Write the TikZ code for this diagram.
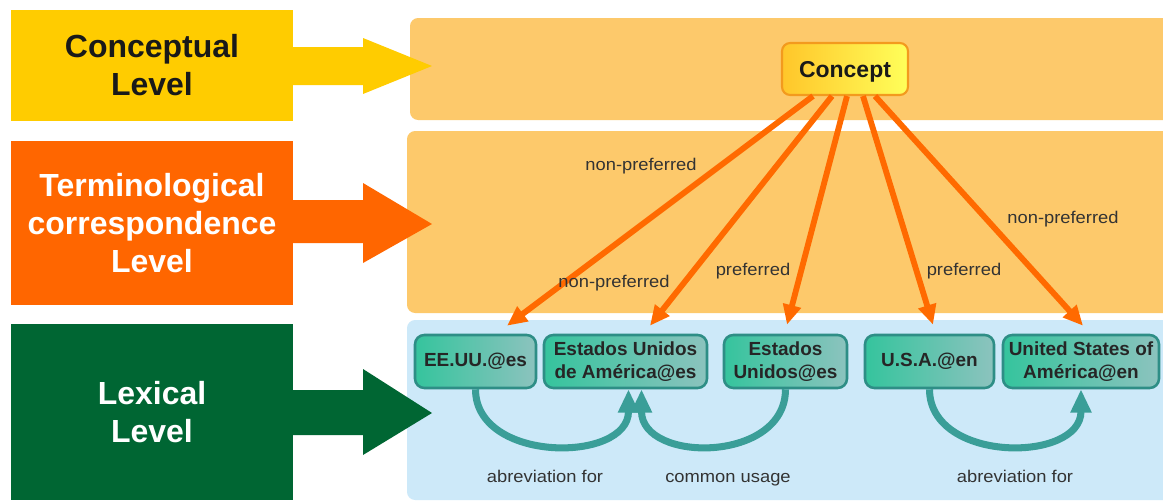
\documentclass[tikz,border=0pt]{standalone}
\usepackage{fontspec}
\setmainfont{Liberation Sans}
\newfontfamily\lblfont[FakeStretch=1.08]{Liberation Sans}
\usetikzlibrary{arrows.meta,calc}
\definecolor{cyellow}{HTML}{FFCC00}
\definecolor{corange}{HTML}{FF6600}
\definecolor{cgreen}{HTML}{006633}
\definecolor{cpanel}{HTML}{FDC96B}
\definecolor{cblue}{HTML}{CDE9F9}
\definecolor{cteal}{HTML}{3A9E98}
\definecolor{ctealdark}{HTML}{2E8E86}
\definecolor{ctealL}{HTML}{35C49D}
\definecolor{ctealR}{HTML}{8CC3BE}
\definecolor{cline}{HTML}{FF6A00}
\definecolor{cconL}{HTML}{FFC62A}
\definecolor{cconR}{HTML}{FFFF5A}
\definecolor{cconB}{HTML}{F39A1E}
\begin{document}
\begin{tikzpicture}[x=0.03cm,y=-0.03cm,
  levelbox/.style={minimum width=8.46cm, inner sep=0pt, align=center,
    font=\bfseries\fontsize{27.3pt}{32.4pt}\selectfont},
  panel/.style={rounded corners=7pt},
  concept/.style={draw=cconB, line width=1.8pt, rounded corners=7pt,
    left color=cconL, right color=cconR, minimum width=3.78cm, minimum height=1.56cm,
    inner sep=0pt, text depth=0pt, font=\bfseries\fontsize{19.6pt}{22pt}\selectfont, text=black!90},
  lex/.style={draw=ctealdark, line width=2.2pt, rounded corners=8pt,
    left color=ctealL, right color=ctealR, minimum height=1.59cm, inner sep=1pt,
    align=center, font=\bfseries\fontsize{16.2pt}{19pt}\selectfont, text=black!85},
  conn/.style={draw=cline, line width=5pt, -{Triangle[length=17pt,width=15pt]}},
  curv/.style={draw=cteal, line width=6pt, -{Triangle[length=20pt,width=17pt]}},
  lbl/.style={inner sep=0pt, anchor=base, text=black!80, font=\lblfont\fontsize{14.5pt}{17pt}\selectfont}
]
\clip (0,0) rectangle (1163,502);
\fill[white] (0,0) rectangle (1163,502);

% panels
\fill[cpanel, panel] (410,18) rectangle (1190,120);
\fill[cpanel, panel] (407,131) rectangle (1190,313);
\fill[cblue, panel] (407,320) rectangle (1190,500);

% left level boxes
\node[levelbox, fill=cyellow, minimum height=3.33cm, text=black!90] (conc) at (152,65.5) {Conceptual\\Level};
\node[levelbox, fill=corange, minimum height=4.92cm, text=white] (term) at (152,223) {Terminological\\correspondence\\Level};
\node[levelbox, fill=cgreen, minimum height=5.28cm, text=white] (lexl) at (152,412) {Lexical\\Level};

% big arrows (shapes)
\fill[cyellow] (290,47) -- (363,47) -- (363,38) -- (432,66) -- (363,94) -- (363,85) -- (290,85) -- cycle;
\fill[corange] (290,200) -- (363,200) -- (363,183) -- (432,224) -- (363,263) -- (363,243) -- (290,243) -- cycle;
\fill[cgreen] (290,390) -- (363,390) -- (363,369) -- (432,413) -- (363,455) -- (363,435) -- (290,435) -- cycle;

% concept and lexical nodes
\node[concept] (concept) at (845,69) {Concept};
\node[lex, minimum width=3.63cm] (ee) at (475.5,361.5) {EE.UU.@es};
\node[lex, minimum width=4.89cm] (euda) at (625.5,361.5) {Estados Unidos\\de América@es};
\node[lex, minimum width=3.69cm] (eu) at (785.5,361.5) {Estados\\Unidos@es};
\node[lex, minimum width=3.87cm] (usa) at (929.5,361.5) {U.S.A.@en};
\node[lex, minimum width=4.68cm] (usoa) at (1081,361.5) {United States of\\América@en};

% orange connectors
\draw[conn] ($(concept.south)+(-32,0)$) -- ($(ee.north)+(31.5,-8)$);
\draw[conn] ($(concept.south)+(-13,0)$) -- ($(euda.north)+(24.5,-8)$);
\draw[conn] ($(concept.south)+(2,0)$) -- ($(eu.north)+(1.5,-9)$);
\draw[conn] ($(concept.south)+(18,0)$) -- ($(usa.north)+(3.5,-9)$);
\draw[conn] ($(concept.south)+(30,0)$) -- ($(usoa.north)+(2,-8)$);

% teal curved connectors
\draw[curv] (ee.south) .. controls +(0,74) and +(0,74) .. ($(euda.south)+(3,0)$);
\draw[curv] (eu.south) .. controls +(0,74) and +(0,74) .. ($(euda.south)+(16,0)$);
\draw[curv] (usa.south) .. controls +(0,74) and +(0,74) .. (usoa.south);

% labels
\node[lbl] (l1) at (641,170) {non-preferred};
\node[lbl] (l2) at (614,287) {non-preferred};
\node[lbl] (l3) at (753,275) {preferred};
\node[lbl] (l4) at (964,275) {preferred};
\node[lbl] (l5) at (1063,223) {non-preferred};
\node[lbl] (l6) at (545,482) {abreviation for};
\node[lbl] (l7) at (728,482) {common usage};
\node[lbl] (l8) at (1015,482) {abreviation for};
\end{tikzpicture}
\end{document}
